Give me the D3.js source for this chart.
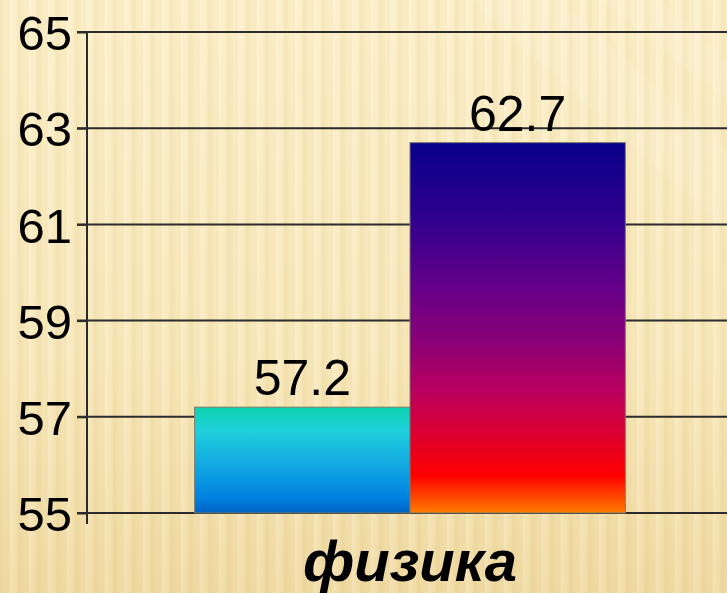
<!DOCTYPE html>
<html>
<head>
<meta charset="utf-8">
<script src="https://cdn.jsdelivr.net/npm/d3@7"></script>
<style>
  html, body { margin: 0; padding: 0; background: #f8e9bd; }
  svg { display: block; }
</style>
</head>
<body>
<div id="chart"></div>
<script>
// data
var categories = ["физика"];
var seriesNames = ["a", "b"];
var values = [57.2, 62.7];
var yTicks = [55, 57, 59, 61, 63, 65];

var W = 727, H = 593;
var margin = {top: 32, right: -6, bottom: 80, left: 87};
var width = W - margin.left - margin.right,
    height = H - margin.top - margin.bottom;

var svg = d3.select("#chart").append("svg")
    .attr("width", W)
    .attr("height", H);

var defs = svg.append("defs");

// striped paper background
var bgV = defs.append("linearGradient").attr("id", "bgV")
    .attr("x1", 0).attr("y1", 0).attr("x2", 0).attr("y2", 1);
bgV.append("stop").attr("offset", "0%").attr("stop-color", "#fcefc8");
bgV.append("stop").attr("offset", "60%").attr("stop-color", "#f8e8ba");
bgV.append("stop").attr("offset", "100%").attr("stop-color", "#f1dba4");

var stripeGrad = defs.append("linearGradient").attr("id", "stripeGrad")
    .attr("x1", 0).attr("y1", 0).attr("x2", 1).attr("y2", 0);
stripeGrad.append("stop").attr("offset", "0%").attr("stop-color", "#b08a30").attr("stop-opacity", 0.09);
stripeGrad.append("stop").attr("offset", "35%").attr("stop-color", "#b08a30").attr("stop-opacity", 0.01);
stripeGrad.append("stop").attr("offset", "55%").attr("stop-color", "#ffffff").attr("stop-opacity", 0.18);
stripeGrad.append("stop").attr("offset", "80%").attr("stop-color", "#ffffff").attr("stop-opacity", 0.03);
stripeGrad.append("stop").attr("offset", "100%").attr("stop-color", "#b08a30").attr("stop-opacity", 0.09);

var pat = defs.append("pattern").attr("id", "stripes")
    .attr("patternUnits", "userSpaceOnUse")
    .attr("width", 19).attr("height", 600);
pat.append("rect").attr("width", 19).attr("height", 600).attr("fill", "url(#stripeGrad)");

svg.append("rect").attr("width", W).attr("height", H).attr("fill", "url(#bgV)");
svg.append("rect").attr("width", W).attr("height", H).attr("fill", "url(#stripes)");

// faint light rays in the upper right
var rays = [[[470, 0], [560, 0], [727, 150], [727, 230]], [[600, 0], [660, 0], [727, 60], [727, 100]]];
svg.selectAll(".ray").data(rays).enter().append("polygon")
    .attr("class", "ray")
    .attr("points", function(d) { return d.map(function(p) { return p.join(","); }).join(" "); })
    .attr("fill", "#ffffff").attr("opacity", 0.1);

// bar gradients
var grads = [
  [["0%", "#0cd3ae"], ["22%", "#20d0dc"], ["55%", "#12a8e2"], ["85%", "#0082e0"], ["100%", "#0062c2"]],
  [["0%", "#08008a"], ["20%", "#2e008e"], ["40%", "#680088"], ["55%", "#8e0074"], ["68%", "#be005c"],
   ["80%", "#e0002a"], ["90%", "#ff0000"], ["100%", "#ff7c00"]]
];
grads.forEach(function(stops, i) {
  var g = defs.append("linearGradient").attr("id", "barGrad" + i)
      .attr("x1", 0).attr("y1", 0).attr("x2", 0).attr("y2", 1);
  stops.forEach(function(s) {
    g.append("stop").attr("offset", s[0]).attr("stop-color", s[1]);
  });
});

var g = svg.append("g")
    .attr("transform", "translate(" + margin.left + "," + margin.top + ")");

var x = d3.scaleBand()
    .domain(categories)
    .range([0, width])
    .paddingInner(0)
    .paddingOuter(0);

var xSub = d3.scaleBand()
    .domain(seriesNames)
    .range([0, x.bandwidth()])
    .paddingOuter(0.5)
    .paddingInner(0);

var y = d3.scaleLinear()
    .domain([55, 65])
    .range([height, 0]);

// gridlines
g.append("g")
    .selectAll("line")
    .data(yTicks)
    .enter().append("line")
    .attr("x1", -10)
    .attr("x2", width)
    .attr("y1", function(d) { return y(d); })
    .attr("y2", function(d) { return y(d); })
    .attr("stroke", "#2b2b2b")
    .attr("stroke-width", 2);

// y axis
var yAxis = g.append("g")
    .call(d3.axisLeft(y).tickValues(yTicks).tickSize(10).tickPadding(5).tickFormat(d3.format("d")));
yAxis.select(".domain").remove();
yAxis.selectAll(".tick line").attr("stroke", "#2b2b2b").attr("stroke-width", 2);
yAxis.selectAll(".tick text")
    .attr("fill", "#000")
    .style("font-family", "Liberation Sans, Arial, sans-serif")
    .style("font-size", "49px")
    .attr("dy", "0.36em");

g.append("line")
    .attr("x1", 0).attr("x2", 0)
    .attr("y1", y(65)).attr("y2", height + 11)
    .attr("stroke", "#2b2b2b")
    .attr("stroke-width", 2);

// bars
g.append("g").selectAll("rect")
    .data(values)
    .enter().append("rect")
    .attr("x", function(d, i) { return x(categories[0]) + xSub(seriesNames[i]); })
    .attr("y", function(d) { return y(d); })
    .attr("width", xSub.bandwidth())
    .attr("height", function(d) { return y(55) - y(d); })
    .attr("fill", function(d, i) { return "url(#barGrad" + i + ")"; })
    .attr("stroke", "#7a7a6a")
    .attr("stroke-width", 1);

// value labels
g.append("g").selectAll("text")
    .data(values)
    .enter().append("text")
    .attr("x", function(d, i) { return x(categories[0]) + xSub(seriesNames[i]) + xSub.bandwidth() / 2; })
    .attr("y", function(d) { return y(d) - 12; })
    .attr("text-anchor", "middle")
    .style("font-family", "Liberation Sans, Arial, sans-serif")
    .style("font-size", "50px")
    .attr("fill", "#000")
    .text(function(d) { return d3.format(".1f")(d); });

// category label
g.append("g").selectAll("text")
    .data(categories)
    .enter().append("text")
    .attr("x", function(d) { return x(d) + x.bandwidth() / 2; })
    .attr("y", height + 68)
    .attr("text-anchor", "middle")
    .style("font-family", "Liberation Sans, Arial, sans-serif")
    .style("font-size", "58px")
    .style("font-weight", "bold")
    .style("font-style", "italic")
    .attr("fill", "#000")
    .text(function(d) { return d; });
</script>
</body>
</html>
